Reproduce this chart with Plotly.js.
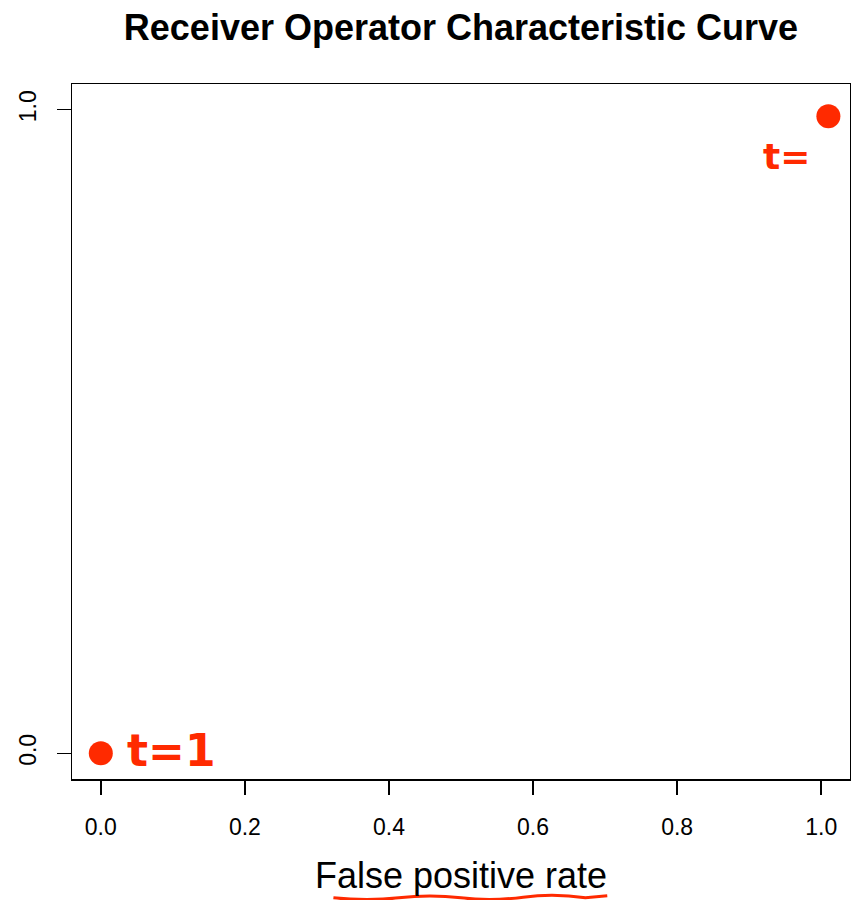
<!DOCTYPE html>
<html>
<head>
<meta charset="utf-8">
<script src="https://cdn.plot.ly/plotly-3.0.1.min.js"></script>
<style>html,body{margin:0;padding:0;background:#fff;}#chart{width:851px;height:900px;}</style>
</head>
<body>
<div id="chart"></div>
<script>
// Data
const xTickVals = [0, 0.2, 0.4, 0.6, 0.8, 1.0];
const xTickText = ["0.0", "0.2", "0.4", "0.6", "0.8", "1.0"];
const yTickVals = [0, 1];
const yTickText = ["0.0", "1.0"];
const pointFpr = [0, 1.01];
const pointTpr = [0, 0.99];
const pointLabels = ["t=1", "t="];

const red = "#ff2a00";
const sans = "Liberation Sans, Arial, sans-serif";

const trace = {
  x: pointFpr,
  y: pointTpr,
  mode: "markers",
  type: "scatter",
  marker: { color: red, size: 24, symbol: "circle", line: { width: 0 } },
  hoverinfo: "skip",
  showlegend: false
};

const layout = {
  width: 851,
  height: 900,
  margin: { l: 72, r: 1, t: 84, b: 121 },
  paper_bgcolor: "#fff",
  plot_bgcolor: "#fff",
  font: { family: sans, color: "#000" },
  title: {
    text: "<b>Receiver Operator Characteristic Curve</b>",
    font: { family: sans, size: 36, color: "#000" },
    xref: "paper", x: 0.5, xanchor: "center",
    yref: "container", y: 1 - 27 / 900, yanchor: "middle"
  },
  xaxis: {
    range: [-0.04, 1.04],
    tickvals: xTickVals,
    ticktext: xTickText,
    ticks: "outside",
    ticklen: 14,
    tickwidth: 1.5,
    tickcolor: "#000",
    ticklabelstandoff: 13,
    tickfont: { family: sans, size: 23, color: "#000" },
    showline: true, linecolor: "#000", linewidth: 1.5, mirror: true,
    showgrid: false, zeroline: false,
    title: { text: "False positive rate", font: { family: sans, size: 36, color: "#000" }, standoff: 23 }
  },
  yaxis: {
    range: [-0.04, 1.04],
    tickvals: yTickVals,
    ticktext: yTickText,
    tickangle: -90,
    ticks: "outside",
    ticklen: 14,
    tickwidth: 1.5,
    tickcolor: "#000",
    ticklabelstandoff: 11,
    tickfont: { family: sans, size: 23, color: "#000" },
    showline: true, linecolor: "#000", linewidth: 1.5, mirror: true,
    showgrid: false, zeroline: false
  },
  annotations: [
    {
      x: pointFpr[0], y: pointTpr[0], xref: "x", yref: "y",
      text: "<b>" + pointLabels[0] + "</b>",
      showarrow: false, xanchor: "left", yanchor: "middle",
      xshift: 24, yshift: 3,
      font: { family: "DejaVu Sans, sans-serif", size: 44, color: red }
    },
    {
      x: pointFpr[1], y: pointTpr[1], xref: "x", yref: "y",
      text: "<b>" + pointLabels[1] + "</b>",
      showarrow: false, xanchor: "right", yanchor: "middle",
      xshift: -16, yshift: -40,
      font: { family: "DejaVu Sans, sans-serif", size: 36, color: red }
    }
  ],
  shapes: [
    {
      type: "path", xref: "paper", yref: "paper",
      path: "M 0.336 -0.171 Q 0.38 -0.176 0.42 -0.171 T 0.50 -0.171 T 0.58 -0.170 T 0.66 -0.171 L 0.688 -0.168",
      line: { color: red, width: 3 }
    }
  ]
};

Plotly.newPlot("chart", [trace], layout, { displayModeBar: false, staticPlot: true });
</script>
</body>
</html>
